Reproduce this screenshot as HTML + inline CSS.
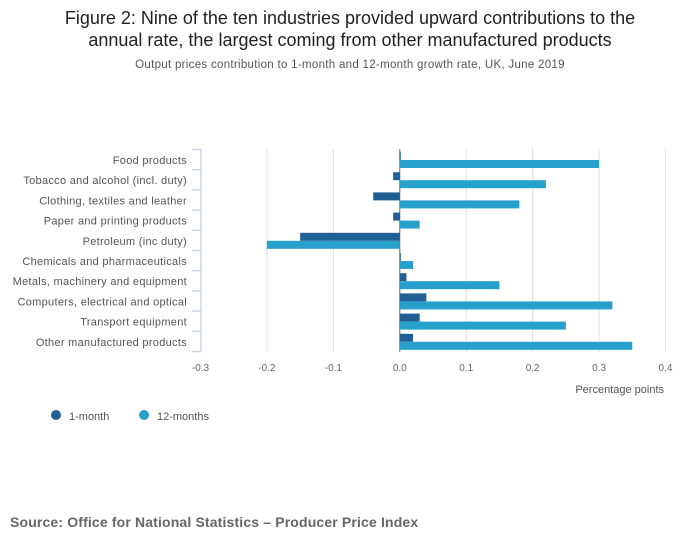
<!DOCTYPE html>
<html><head><meta charset="utf-8"><style>
body{margin:0;background:#fff;font-family:"Liberation Sans",sans-serif;}
#wrap{position:relative;width:700px;height:549px;overflow:hidden;}
</style></head><body>
<div id="wrap">
<svg id="chart" width="700" height="549">
<text x="350" y="24" text-anchor="middle" font-size="18" fill="#222">Figure 2: Nine of the ten industries provided upward contributions to the</text>
<text x="350" y="46" text-anchor="middle" font-size="18" fill="#222">annual rate, the largest coming from other manufactured products</text>
<text x="350" y="68" text-anchor="middle" font-size="11.5" letter-spacing="0.3" fill="#555">Output prices contribution to 1-month and 12-month growth rate, UK, June 2019</text>
<g id="grid"></g><g id="bars"></g><g id="yaxis"></g><g id="xaxis"></g>
<text x="664" y="393" text-anchor="end" font-size="11" fill="#555">Percentage points</text>
<g>
<circle cx="56" cy="415" r="5" fill="#206095"/>
<text x="69" y="420" font-size="11" fill="#555">1-month</text>
<circle cx="144" cy="415" r="5" fill="#27a0cc"/>
<text x="157" y="420" font-size="11" fill="#555">12-months</text>
</g>
<text x="10" y="527" font-size="14" letter-spacing="0.15" font-weight="bold" fill="#666">Source: Office for National Statistics – Producer Price Index</text>
</svg>
</div>
<script>
const categories=["Food products","Tobacco and alcohol (incl. duty)","Clothing, textiles and leather","Paper and printing products","Petroleum (inc duty)","Chemicals and pharmaceuticals","Metals, machinery and equipment","Computers, electrical and optical","Transport equipment","Other manufactured products"];
const oneMonth=[0.001,-0.01,-0.04,-0.01,-0.15,0.001,0.01,0.04,0.03,0.02];
const twelveMonths=[0.30,0.22,0.18,0.03,-0.20,0.02,0.15,0.32,0.25,0.35];
const xTicks=[-0.3,-0.2,-0.1,0,0.1,0.2,0.3,0.4];
const xTickLabels=["-0.3","-0.2","-0.1","0.0","0.1","0.2","0.3","0.4"];
const NS="http://www.w3.org/2000/svg";
const plotX0=200.5,plotX1=665.5,plotTop=150,band=20.2;
function xs(v){return plotX0+(v-(-0.3))/(0.7)*(plotX1-plotX0);}
function yb(i){return plotTop+i*band;}
function mk(tag,attrs,parent){const e=document.createElementNS(NS,tag);for(const k in attrs)e.setAttribute(k,attrs[k]);parent.appendChild(e);return e;}
const grid=document.getElementById('grid'),bars=document.getElementById('bars'),ya=document.getElementById('yaxis'),xa=document.getElementById('xaxis');
xTicks.forEach((t,i)=>{
  if(t!==-0.3){const l=mk('line',{x1:xs(t),x2:xs(t),y1:149,y2:352,stroke:t===0?'#666':'#e0e0e0','stroke-width':1},grid);
  
  }
  const tx=mk('text',{x:xs(t),y:371,'text-anchor':'middle','font-size':10,fill:'#666'},xa);
  tx.textContent=xTickLabels[i];
  
  
});
const ax=mk('line',{x1:201,x2:201,y1:149,y2:352,stroke:'#ccd5e6','stroke-width':1.5},ya);


for(let i=0;i<=categories.length;i++){
  const tk=mk('line',{x1:192,x2:201,y1:yb(i)-0.5,y2:yb(i)-0.5,stroke:'#ccd5e6','stroke-width':1.5},ya);
  
  
}
categories.forEach((c,i)=>{
  const t=mk('text',{x:187,y:yb(i)+14,'text-anchor':'end','font-size':11,'letter-spacing':0.3,fill:'#555'},ya);
  t.textContent=c;
  
  
  const a=oneMonth[i],b=twelveMonths[i];
  const r1=mk('rect',{x:Math.min(xs(0),xs(a)),y:yb(i)+2,width:Math.max(1,Math.abs(xs(a)-xs(0))),height:8,fill:'#206095'},bars);
  
  
  const r2=mk('rect',{x:Math.min(xs(0),xs(b)),y:yb(i)+10,width:Math.max(1,Math.abs(xs(b)-xs(0))),height:8,fill:'#27a0cc'},bars);
  
  
});
</script>
</body></html>
